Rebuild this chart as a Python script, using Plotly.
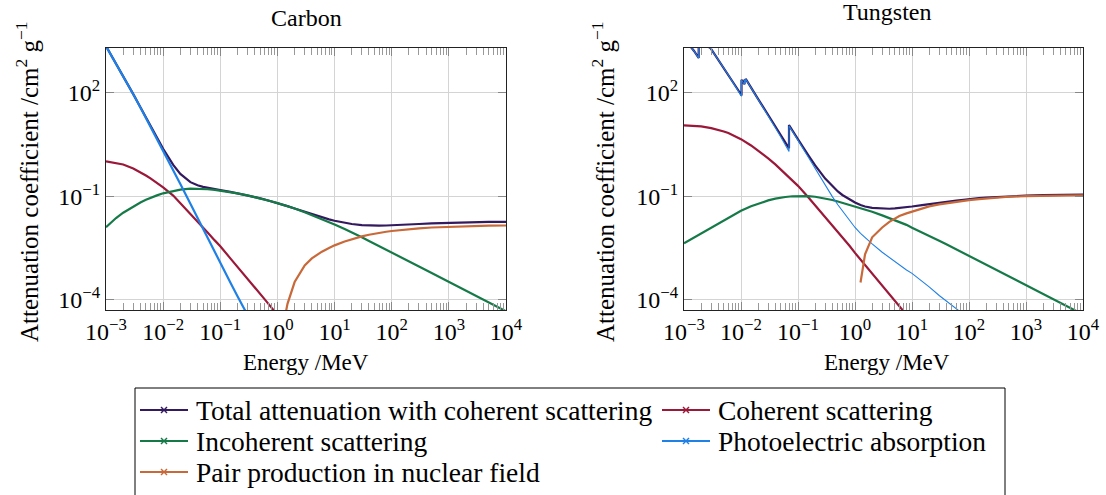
import plotly.graph_objects as go
from plotly.subplots import make_subplots

# ---------------- Carbon (cm^2/g vs MeV) ----------------
energy_c = [1e-3, 1.5e-3, 2e-3, 3e-3, 4e-3, 5e-3, 6e-3, 8e-3,
            1e-2, 1.5e-2, 2e-2, 3e-2, 4e-2, 5e-2, 6e-2, 8e-2,
            0.1, 0.15, 0.2, 0.3, 0.4, 0.5, 0.6, 0.8,
            1, 1.25, 1.5, 2, 3, 4, 5, 6, 8,
            10, 15, 20, 30, 40, 50, 60, 80,
            100, 150, 200, 300, 500,
            1000, 2000, 5000, 10000]
total_c = [2211, 700, 302.6, 90.3, 37.8, 19.1, 10.95, 4.58,
           2.37, 0.807, 0.442, 0.256, 0.2076, 0.1871, 0.1753, 0.161,
           0.1514, 0.1347, 0.1229, 0.1066, 0.0955, 0.0872, 0.0806, 0.0708,
           0.0636, 0.0569, 0.0518, 0.0444, 0.0356, 0.0305, 0.0271, 0.0247, 0.0215,
           0.0196, 0.0170, 0.0158, 0.0147, 0.01434, 0.0142, 0.01417, 0.01426,
           0.01442, 0.0149, 0.0153, 0.0158, 0.0165,
           0.0172, 0.0177, 0.0181, 0.0183]
incoh_c = [0.0127, 0.0235, 0.0335, 0.051, 0.066, 0.079, 0.090, 0.108,
           0.122, 0.145, 0.156, 0.1658, 0.165, 0.1631, 0.160, 0.1531,
           0.1466, 0.1328, 0.1219, 0.1062, 0.0953, 0.0870, 0.0805, 0.0707,
           0.0636, 0.0569, 0.0517, 0.0441, 0.0346, 0.0288, 0.0248, 0.0219, 0.0179,
           0.0153, 0.0113, 0.0091, 0.0065, 0.0051, 0.0042, 0.0036, 0.0028,
           0.0023, 0.00165, 0.0013, 0.00093, 0.0006,
           0.00033, 0.000185, 8.5e-5, 4.7e-5]
energy_coh_c = [1e-3, 1.5e-3, 2e-3, 3e-3, 4e-3, 5e-3, 6e-3, 8e-3,
                1e-2, 1.5e-2, 2e-2, 3e-2, 4e-2, 5e-2, 6e-2, 8e-2,
                0.1, 0.15, 0.2, 0.3, 0.4, 0.5, 0.6, 0.8, 1, 1.25]
coh_c = [1.02, 0.93, 0.83, 0.64, 0.50, 0.40, 0.33, 0.235,
         0.18, 0.105, 0.064, 0.031, 0.019, 0.0127, 0.009, 0.0053,
         0.0036, 0.0016, 0.00092, 0.00041, 0.000232, 0.000149, 0.000104, 5.8e-5,
         3.7e-5, 2.4e-5]
energy_photo_c = [1e-3, 1.5e-3, 2e-3, 3e-3, 4e-3, 5e-3, 6e-3, 8e-3,
                  1e-2, 1.5e-2, 2e-2, 3e-2, 4e-2, 5e-2, 6e-2, 8e-2,
                  0.1, 0.15, 0.2, 0.3, 0.4]
photo_c = [2205, 698, 301, 89.5, 37.2, 18.6, 10.5, 4.29,
           2.07, 0.573, 0.226, 0.0605, 0.0233, 0.0112, 0.00615, 0.00238,
           0.00116, 3.2e-4, 1.29e-4, 3.7e-5, 1.5e-5]
energy_pair = [1.25, 1.5, 2, 3, 4, 5, 6, 8,
               10, 15, 20, 30, 40, 50, 60, 80,
               100, 150, 200, 300, 500, 1000, 2000, 5000, 10000]
pair_c = [1.7e-5, 7.7e-5, 3.3e-4, 1.0e-3, 1.6e-3, 2.1e-3, 2.5e-3, 3.2e-3,
          3.8e-3, 4.9e-3, 5.7e-3, 6.9e-3, 7.7e-3, 8.3e-3, 8.7e-3, 9.4e-3,
          9.9e-3, 0.0107, 0.0112, 0.0118, 0.0125, 0.0131, 0.0136, 0.0141, 0.0143]

# ---------------- Tungsten (absorption edges listed twice) ----------------
energy_w = [1e-3, 1.5e-3, 1.809e-3, 1.809e-3, 1.872e-3, 1.872e-3,
            2.281e-3, 2.281e-3, 2.575e-3, 2.575e-3, 2.82e-3, 2.82e-3,
            3e-3, 4e-3, 5e-3, 6e-3, 8e-3, 1e-2,
            1.0207e-2, 1.0207e-2, 1.154e-2, 1.154e-2, 1.21e-2, 1.21e-2,
            1.5e-2, 2e-2, 3e-2, 4e-2, 5e-2, 6e-2,
            6.9525e-2, 6.9525e-2,
            8e-2, 0.1, 0.15, 0.2, 0.3, 0.4, 0.5, 0.6, 0.8,
            1, 1.25, 1.5, 2, 3, 4, 5, 6, 8,
            10, 15, 20, 30, 40, 50, 60, 80,
            100, 150, 200, 300, 500,
            1000, 2000, 5000, 10000]
total_w = [3700, 1600, 1000, 2400, 2300, 3500,
           2500, 2900, 2300, 2450, 1980, 2080,
           1800, 900, 520, 330, 155, 88,
           83, 235, 175, 240, 210, 250,
           138, 65, 22.5, 10.5, 5.9, 3.7,
           2.45, 11.5,
           7.8, 4.44, 1.58, 0.784, 0.324, 0.193, 0.138, 0.109, 0.081,
           0.0662, 0.0556, 0.0507, 0.0462, 0.0440, 0.0436, 0.0445, 0.0457, 0.0483,
           0.0506, 0.0557, 0.0598, 0.0655, 0.0695, 0.0727, 0.075, 0.0795,
           0.084, 0.0885, 0.092, 0.096, 0.1005,
           0.1045, 0.108, 0.110, 0.111]
photo_w = [3690, 1590, 990, 2390, 2290, 3490,
           2490, 2890, 2290, 2440, 1970, 2070,
           1790, 892, 513, 323, 149, 83.5,
           78.5, 230, 171, 236, 206, 246,
           135, 62.8, 21.2, 9.6, 5.2, 3.15,
           1.97, 11.0,
           7.4, 4.15, 1.39, 0.63, 0.205, 0.098, 0.057, 0.038, 0.020,
           0.0125, 0.0085, 0.0064, 0.0042, 0.0024, 0.0017, 0.00127, 0.00102, 7.4e-4,
           5.9e-4, 3.6e-4, 2.4e-4, 1.35e-4, 9.2e-5, 6.9e-5, 5.4e-5, 3.8e-5,
           2.9e-5, 1.8e-5, 1.3e-5, 8e-6, 4.6e-6,
           2.2e-6, 1.1e-6, 4.4e-7, 2.2e-7]
energy_smooth_w = energy_c
incoh_w = [0.00437, 0.00646, 0.0085, 0.0126, 0.0162, 0.0200, 0.0234, 0.0309,
           0.038, 0.0513, 0.0617, 0.0759, 0.0851, 0.0912, 0.0955, 0.100,
           0.102, 0.101, 0.097, 0.087, 0.078, 0.0705, 0.0648, 0.0565,
           0.0513, 0.0461, 0.0419, 0.0356, 0.028, 0.0234, 0.0203, 0.0181, 0.0149,
           0.0123, 0.0091, 0.0073, 0.0052, 0.0041, 0.0034, 0.0029, 0.00226,
           0.00185, 0.00133, 0.00105, 0.00075, 0.00048,
           0.00027, 0.00015, 6.9e-5, 3.8e-5]
energy_coh_w = [1e-3, 1.5e-3, 2e-3, 3e-3, 4e-3, 5e-3, 6e-3, 8e-3,
                1e-2, 1.5e-2, 2e-2, 3e-2, 4e-2, 5e-2, 6e-2, 8e-2,
                0.1, 0.15, 0.2, 0.3, 0.4, 0.5, 0.6, 0.8,
                1, 1.25, 1.5, 2, 3, 4, 5, 6, 8, 10]
coh_w = [11.3, 11.0, 10.5, 9.4, 8.4, 7.5, 6.8, 5.5,
         4.5, 2.95, 2.1, 1.25, 0.84, 0.6, 0.45, 0.29,
         0.2, 0.095, 0.055, 0.025, 0.0143, 0.0093, 0.0065, 0.0037,
         0.0023, 0.00148, 0.00103, 0.00058, 0.00026, 0.000146, 9.4e-5, 6.5e-5, 3.7e-5,
         2.4e-5]
pair_w = [3.2e-4, 2.1e-3, 6.5e-3, 0.0125, 0.0182, 0.023, 0.027, 0.032,
          0.036, 0.045, 0.051, 0.058, 0.0625, 0.066, 0.0688, 0.0735,
          0.077, 0.083, 0.087, 0.092, 0.097, 0.101, 0.104, 0.106, 0.107]

# ---------------- Axis labels ----------------
x_tick_vals = [1e-3, 1e-2, 1e-1, 1e0, 1e1, 1e2, 1e3, 1e4]
x_tick_text = ["10<sup>−3</sup>", "10<sup>−2</sup>", "10<sup>−1</sup>", "10<sup>0</sup>",
               "10<sup>1</sup>", "10<sup>2</sup>", "10<sup>3</sup>", "10<sup>4</sup>"]
y_tick_vals = [1e2, 1e-1, 1e-4]
y_tick_text = ["10<sup>2</sup>", "10<sup>−1</sup>", "10<sup>−4</sup>"]
panel_titles = ["Carbon", "Tungsten"]
x_title = "Energy /MeV"
y_title = "Attenuation coefficient /cm<sup>2</sup> g<sup>−1</sup>"
series_names = ["Total attenuation with coherent scattering", "Coherent scattering",
                "Incoherent scattering", "Photoelectric absorption",
                "Pair production in nuclear field"]

COL_TOTAL = "#33195e"
COL_COH = "#9b1839"
COL_INCOH = "#157a48"
COL_PHOTO = "#1f80e6"
COL_PAIR = "#c8693a"
colors = [COL_TOTAL, COL_COH, COL_INCOH, COL_PHOTO, COL_PAIR]

FONT = "Liberation Serif"
W, H = 1106, 495

fig = make_subplots(rows=1, cols=2)

panels = [
    dict(col=1, photo_w=2.2,
         series=[(energy_c, total_c, COL_TOTAL), (energy_coh_c, coh_c, COL_COH),
                 (energy_c, incoh_c, COL_INCOH), (energy_photo_c, photo_c, COL_PHOTO),
                 (energy_pair, pair_c, COL_PAIR)]),
    dict(col=2, photo_w=1.1,
         series=[(energy_w, total_w, COL_TOTAL), (energy_coh_w, coh_w, COL_COH),
                 (energy_smooth_w, incoh_w, COL_INCOH), (energy_w, photo_w, COL_PHOTO),
                 (energy_pair, pair_w, COL_PAIR)]),
]

for p in panels:
    for xs, ys, col in p["series"]:
        width = p["photo_w"] if col == COL_PHOTO else 2.2
        fig.add_trace(go.Scatter(x=xs, y=ys, mode="lines", showlegend=False,
                                 line=dict(color=col, width=width),
                                 hoverinfo="skip"), row=1, col=p["col"])

# axis geometry in pixels
x_domains = [(106, 506), (684, 1083)]
y_top, y_bot = 48, 310
minor_vals = [m * 10 ** k for k in range(-3, 4) for m in range(2, 10)]

axis_common = dict(showline=True, linecolor="#222", linewidth=1, mirror="allticks",
                   showgrid=True, gridcolor="#d4d4d4", gridwidth=1,
                   ticks="inside", tickcolor="#888", ticklen=8,
                   tickfont=dict(family=FONT, size=24, color="black"),
                   zeroline=False)

for i, (x0, x1) in enumerate(x_domains):
    suffix = "" if i == 0 else "2"
    fig.layout["xaxis" + suffix].update(
        type="log", range=[-3, 4], domain=[x0 / W, x1 / W],
        tickvals=x_tick_vals, ticktext=x_tick_text,
        minor=dict(tickvals=minor_vals, ticks="inside", ticklen=7,
                   tickcolor="#999", showgrid=False),
        **axis_common)
    fig.layout["yaxis" + suffix].update(
        type="log", range=[-4.29, 3.29],
        domain=[1 - y_bot / H, 1 - y_top / H],
        tickvals=y_tick_vals, ticktext=y_tick_text,
        **axis_common)


def px(x):
    return x / W


def py(y):
    return 1 - y / H


annotations = []
shapes = []
title_pos = [(306, 18), (887, 12)]
for (cx, cy), t in zip(title_pos, panel_titles):
    annotations.append(dict(text=t, x=px(cx), y=py(cy), xref="paper", yref="paper",
                            showarrow=False, xanchor="center", yanchor="middle",
                            font=dict(family=FONT, size=24, color="black")))
for cx in (306, 887):
    annotations.append(dict(text=x_title, x=px(cx), y=py(362), xref="paper", yref="paper",
                            showarrow=False, xanchor="center", yanchor="middle",
                            font=dict(family=FONT, size=23, color="black")))
for cx in (27, 603):
    annotations.append(dict(text=y_title, x=px(cx), y=py(182), xref="paper", yref="paper",
                            showarrow=False, xanchor="center", yanchor="middle", textangle=-90,
                            font=dict(family=FONT, size=25, color="black")))

# legend: framed box, two columns, line sample with a cross
shapes.append(dict(type="rect", xref="paper", yref="paper",
                   x0=px(135), x1=px(1005), y0=py(388), y1=py(520),
                   line=dict(color="black", width=1), fillcolor="white", layer="above"))
legend_slots = [(140, 410), (662, 410), (140, 441), (662, 441), (140, 472)]
for (lx, ly), name, col in zip(legend_slots, series_names, colors):
    shapes.append(dict(type="line", xref="paper", yref="paper",
                       x0=px(lx), x1=px(lx + 48), y0=py(ly), y1=py(ly),
                       line=dict(color=col, width=2.2), layer="above"))
    mx, s = lx + 24, 3
    for dy in (-s, s):
        shapes.append(dict(type="line", xref="paper", yref="paper",
                           x0=px(mx - s), x1=px(mx + s), y0=py(ly - dy), y1=py(ly + dy),
                           line=dict(color=col, width=1.4), layer="above"))
    annotations.append(dict(text=name, x=px(lx + 54), y=py(ly), xref="paper", yref="paper",
                            showarrow=False, xanchor="left", yanchor="middle",
                            font=dict(family=FONT, size=27.5, color="black")))

fig.update_layout(
    width=W, height=H,
    margin=dict(l=0, r=0, t=0, b=0, autoexpand=False),
    paper_bgcolor="white", plot_bgcolor="white",
    showlegend=False,
    annotations=annotations,
    shapes=shapes,
)

fig.write_html("out.html")
